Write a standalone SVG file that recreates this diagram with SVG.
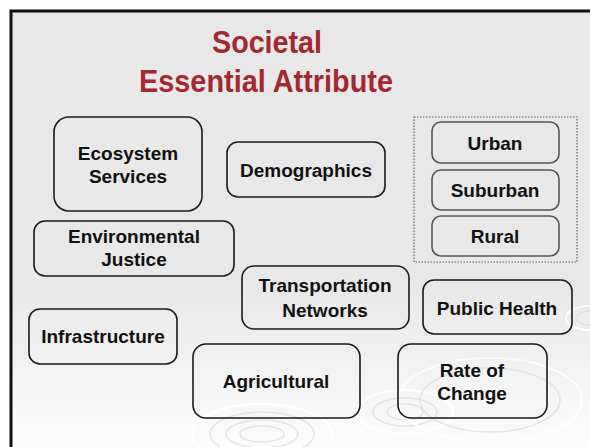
<svg xmlns="http://www.w3.org/2000/svg" width="590" height="447" viewBox="0 0 590 447">
  <defs>
    <linearGradient id="bg" x1="0" y1="0" x2="0" y2="1">
      <stop offset="0" stop-color="#e8e8e8"/>
      <stop offset="0.6" stop-color="#e8e8e8"/>
      <stop offset="1" stop-color="#ffffff"/>
    </linearGradient>
  </defs>
  <style>
    .node { fill: none; stroke: #1a1a1a; stroke-width: 1.6; }
    .sub { fill: none; stroke: #555555; stroke-width: 1.6; }
    .lbl { font-family: "Liberation Sans", Arial, sans-serif; font-weight: bold; font-size: 19px; fill: #111111; text-anchor: middle; }
    .title { font-family: "Liberation Sans", Arial, sans-serif; font-weight: bold; font-size: 32px; fill: #a3282f; text-anchor: middle; }
    .rip { fill: none; stroke: #dcdcdc; stroke-width: 1.5; opacity: 0.7; }
    .ripw { fill: none; stroke: #ffffff; stroke-width: 2; opacity: 0.8; }
  </style>
  <rect x="0" y="0" width="590" height="447" fill="#ffffff"/>
  <rect x="11" y="11" width="600" height="460" fill="url(#bg)" stroke="#111111" stroke-width="3"/>

  <g id="ripples">
    <ellipse class="rip" cx="262" cy="434" rx="22" ry="8"/>
    <ellipse class="rip" cx="262" cy="434" rx="36" ry="14"/>
    <ellipse class="rip" cx="262" cy="434" rx="52" ry="22"/>
    <ellipse class="ripw" cx="262" cy="434" rx="70" ry="30"/>
    <ellipse class="rip" cx="405" cy="412" rx="18" ry="8"/>
    <ellipse class="rip" cx="405" cy="412" rx="32" ry="14"/>
    <ellipse class="ripw" cx="405" cy="412" rx="48" ry="22"/>
    <ellipse class="rip" cx="490" cy="400" rx="70" ry="32"/>
    <ellipse class="ripw" cx="490" cy="400" rx="92" ry="42"/>
    <ellipse class="rip" cx="590" cy="318" rx="14" ry="7"/>
    <ellipse class="ripw" cx="590" cy="318" rx="24" ry="12"/>
  </g>

  <g id="title">
    <text class="title" x="267" y="53" textLength="110" lengthAdjust="spacingAndGlyphs">Societal</text>
    <text class="title" x="266" y="92" textLength="254" lengthAdjust="spacingAndGlyphs">Essential Attribute</text>
  </g>

  <g id="connectors"></g>

  <g id="ecosystem-services">
    <rect class="node" x="54" y="117" width="148" height="94" rx="15"/>
    <text class="lbl" x="128" y="160">Ecosystem</text>
    <text class="lbl" x="128" y="183">Services</text>
  </g>
  <g id="demographics">
    <rect class="node" x="227" y="142" width="158" height="55" rx="11"/>
    <text class="lbl" x="306" y="177">Demographics</text>
  </g>
  <g id="environmental-justice">
    <rect class="node" x="34" y="221" width="200" height="55" rx="11"/>
    <text class="lbl" x="134" y="243">Environmental</text>
    <text class="lbl" x="134" y="266">Justice</text>
  </g>
  <g id="area-group">
    <rect x="414" y="117" width="163" height="145" fill="none" stroke="#666666" stroke-width="1.2" stroke-dasharray="1.5 1.5"/>
    <g id="urban">
      <rect class="sub" x="432" y="122" width="127" height="41" rx="9"/>
      <text class="lbl" x="495" y="150">Urban</text>
    </g>
    <g id="suburban">
      <rect class="sub" x="432" y="170" width="127" height="40" rx="9"/>
      <text class="lbl" x="495" y="197">Suburban</text>
    </g>
    <g id="rural">
      <rect class="sub" x="432" y="216" width="127" height="40" rx="9"/>
      <text class="lbl" x="495" y="243">Rural</text>
    </g>
  </g>
  <g id="transportation-networks">
    <rect class="node" x="242" y="266" width="167" height="63" rx="12"/>
    <text class="lbl" x="325" y="292">Transportation</text>
    <text class="lbl" x="325" y="317">Networks</text>
  </g>
  <g id="public-health">
    <rect class="node" x="423" y="280" width="149" height="54" rx="11"/>
    <text class="lbl" x="497" y="315">Public Health</text>
  </g>
  <g id="infrastructure">
    <rect class="node" x="29" y="309" width="148" height="55" rx="11"/>
    <text class="lbl" x="103" y="343">Infrastructure</text>
  </g>
  <g id="agricultural">
    <rect class="node" x="193" y="344" width="167" height="74" rx="13"/>
    <text class="lbl" x="276" y="388">Agricultural</text>
  </g>
  <g id="rate-of-change">
    <rect class="node" x="398" y="344" width="149" height="74" rx="13"/>
    <text class="lbl" x="472" y="377">Rate of</text>
    <text class="lbl" x="472" y="400">Change</text>
  </g>
</svg>
